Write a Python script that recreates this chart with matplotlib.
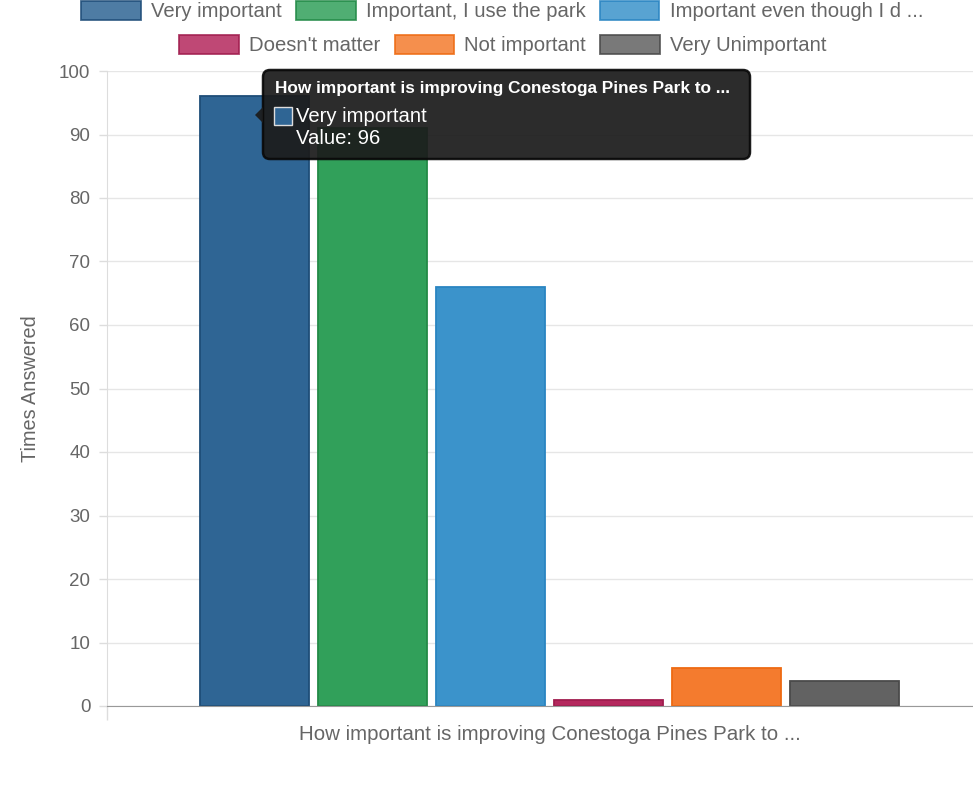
import matplotlib
matplotlib.use("Agg")
import matplotlib.pyplot as plt
from matplotlib.patches import FancyBboxPatch, Polygon, Rectangle

plt.rcParams['font.family'] = ['Liberation Sans', 'DejaVu Sans']

# ---- data ----
category = ["How important is improving Conestoga Pines Park to ..."]
series_names = ["Very important", "Important, I use the park", "Important even though I d ...",
                "Doesn't matter", "Not important", "Very Unimportant"]
series_values = [96, 91, 66, 1, 6, 4]
fill_colors = ["#2f6594", "#31a05a", "#3b93cb", "#b4285d", "#f47b2e", "#626262"]
edge_colors = ["#1e4d78", "#238a47", "#2a85c2", "#a01d4e", "#ee6a12", "#4a4a4a"]
y_ticks = [0, 10, 20, 30, 40, 50, 60, 70, 80, 90, 100]
y_label = "Times Answered"
tooltip_title = "How important is improving Conestoga Pines Park to ..."
tooltip_series = "Very important"
tooltip_value = "Value: 96"

W, H = 973, 785
fig = plt.figure(figsize=(W / 100, H / 100), dpi=100)
fig.patch.set_facecolor("white")

def fx(px):
    return px / W

def fy(py):
    return 1 - py / H

left, right, top, bottom = 107, 992, 71, 706
ax = fig.add_axes([fx(left), fy(bottom), (right - left) / W, (bottom - top) / H], zorder=1)

n = len(series_names)
slot = 0.8 / n
bw = slot * 0.93
handles = []
for i, (name, val) in enumerate(zip(series_names, series_values)):
    off = (i - (n - 1) / 2) * slot
    b = ax.bar(0 + off, val, width=bw, color=fill_colors[i], edgecolor=edge_colors[i],
               linewidth=1.3, label=name, zorder=3)
    handles.append(b)

ax.set_xlim(-0.5, 0.5)
ax.set_ylim(0, 100)
ax.set_yticks(y_ticks)
ax.set_yticklabels([str(t) for t in y_ticks])
ax.grid(axis='y', color="#e6e6e6", linewidth=1, zorder=0)
ax.set_xticks([0])
ax.set_xticklabels(category)
ax.set_xticks([-0.5], minor=True)
ax.tick_params(axis='x', which='major', length=0, pad=14, labelsize=14.8, labelcolor="#666666")
ax.tick_params(axis='x', which='minor', length=10, color="#dddddd", width=1)
ax.tick_params(axis='y', length=6, color="#dddddd", width=1, pad=6, labelsize=13.5,
               labelcolor="#666666")
for s in ["top", "right"]:
    ax.spines[s].set_visible(False)
ax.spines["left"].set_color("#dddddd")
ax.spines["bottom"].set_color("#999999")
ax.spines["bottom"].set_zorder(4)

fig.text(fx(31), fy(389), y_label, rotation=90, ha="center", va="center",
         fontsize=14.3, color="#666666")

# ---- legend: two centered rows ----
leg_kw = dict(loc="center", ncol=3, frameon=False, fontsize=14.6, handlelength=2.95,
              handleheight=1.05, handletextpad=0.5, columnspacing=0.7, labelcolor="#666666",
              borderpad=0, borderaxespad=0)
leg1 = fig.legend(handles[:3], series_names[:3], bbox_to_anchor=(fx(502), fy(11)), **leg_kw)
leg2 = fig.legend(handles[3:], series_names[3:], bbox_to_anchor=(fx(503), fy(45)), **leg_kw)
for leg in (leg1, leg2):
    for p in leg.get_patches():
        p.set_alpha(0.85)

# ---- tooltip (overlay axes on top of everything) ----
ov = fig.add_axes([0, 0, 1, 1], zorder=10)
ov.set_xlim(0, W)
ov.set_ylim(H, 0)
ov.axis("off")
ov.patch.set_alpha(0)

tip = FancyBboxPatch((263, 70), 750 - 263, 159 - 70,
                     boxstyle="round,pad=0,rounding_size=7",
                     facecolor="#1c1c1c", edgecolor="#0a0a0a", linewidth=1.8, alpha=0.93)
ov.add_patch(tip)
caret = Polygon([(255, 115), (263, 107), (263, 123)], closed=True,
                facecolor="#1c1c1c", edgecolor="none", alpha=0.93)
ov.add_patch(caret)
sq = Rectangle((274, 107), 18, 18, facecolor=fill_colors[0], edgecolor="#dddddd",
               linewidth=1)
ov.add_patch(sq)
ov.text(275, 88, tooltip_title, ha="left", va="center", fontsize=12.4,
        fontweight="bold", color="white")
ov.text(296, 116, tooltip_series, ha="left", va="center", fontsize=14.6, color="white")
ov.text(296, 139, tooltip_value, ha="left", va="center", fontsize=14.6, color="white")

fig.savefig("out.png", dpi=100)
